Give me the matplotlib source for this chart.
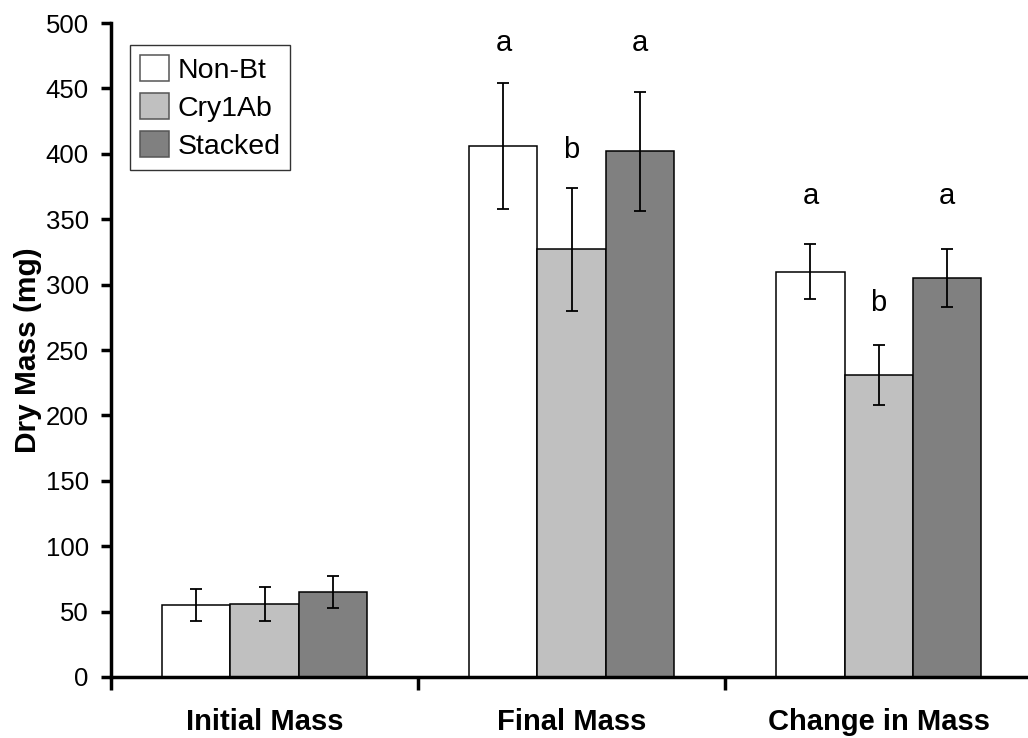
import numpy as np
import matplotlib
matplotlib.use('Agg')
import matplotlib.pyplot as plt

plt.rcParams['font.family'] = ['Liberation Sans', 'DejaVu Sans']

categories = ['Initial Mass', 'Final Mass', 'Change in Mass']
series = ['Non-Bt', 'Cry1Ab', 'Stacked']
colors = ['#ffffff', '#c0c0c0', '#808080']

non_bt = [55, 406, 310]
cry1ab = [56, 327, 231]
stacked = [65, 402, 305]
non_bt_err = [12.5, 48.5, 21]
cry1ab_err = [13, 47, 23]
stacked_err = [12.5, 45.5, 22]

letters = {
    'Non-Bt': ['', 'a', 'a'],
    'Cry1Ab': ['', 'b', 'b'],
    'Stacked': ['', 'a', 'a'],
}
letter_y = {
    'Non-Bt': [0, 485, 368],
    'Cry1Ab': [0, 403, 286],
    'Stacked': [0, 485, 368],
}

values = [non_bt, cry1ab, stacked]
errors = [non_bt_err, cry1ab_err, stacked_err]

fig = plt.figure(figsize=(10.28, 7.38), dpi=100)
ax = fig.add_axes([0.108, 0.0827, 0.896, 0.886])

x = np.arange(len(categories))
width = 0.222
for i, name in enumerate(series):
    pos = x + (i - 1) * width
    ax.bar(pos, values[i], width, color=colors[i], edgecolor='black',
           linewidth=1.1, label=name, zorder=2)
    ax.errorbar(pos, values[i], yerr=errors[i], fmt='none', ecolor='black',
                elinewidth=1.3, capsize=4.3, capthick=1.3, zorder=3)
    for j, txt in enumerate(letters[name]):
        if txt:
            ax.text(pos[j], letter_y[name][j], txt, ha='center', va='center',
                    fontsize=21)

ax.set_xlim(-0.5, 2.5)
ax.set_ylim(0, 500)
ax.set_yticks(np.arange(0, 501, 50))
ax.set_xticks([-0.5, 0.5, 1.5, 2.5])
ax.set_xticklabels([])
ax.set_xticks(x, minor=True)
ax.set_xticklabels(categories, minor=True, fontsize=21, fontweight='bold')
ax.tick_params(axis='x', which='minor', length=0, pad=22)
ax.tick_params(axis='x', which='major', direction='out', length=9, width=2.5)
ax.tick_params(axis='y', direction='out', length=7, width=2.5, labelsize=18.5, pad=9)

for side in ['top', 'right']:
    ax.spines[side].set_visible(False)
for side in ['left', 'bottom']:
    ax.spines[side].set_linewidth(2.5)

ax.set_ylabel('Dry Mass (mg)', fontsize=21.5, fontweight='bold', labelpad=3)

leg = ax.legend(loc='upper left', bbox_to_anchor=(0.021, 0.966), fontsize=20.5,
                frameon=True, fancybox=False, edgecolor='black',
                handlelength=1.0, handleheight=1.0, handletextpad=0.3,
                borderpad=0.35, labelspacing=0.33, borderaxespad=0)
leg.get_frame().set_linewidth(1.0)
for h in leg.legend_handles:
    h.set_edgecolor('#555555')

fig.savefig('out.png', dpi=100)
